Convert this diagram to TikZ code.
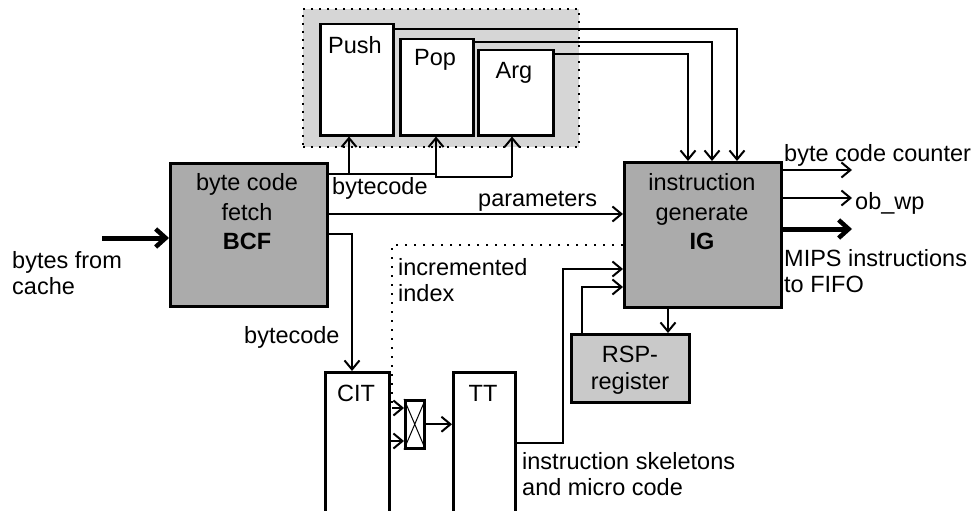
\documentclass[tikz,border=0pt]{standalone}
\usepackage{fontspec}
\setmainfont{Liberation Sans}
\usetikzlibrary{arrows.meta}
\definecolor{dark}{HTML}{ABABAB}
\definecolor{light}{HTML}{D6D6D6}
\definecolor{rspc}{HTML}{C9C9C9}
\begin{document}
\begin{tikzpicture}[x=1pt,y=-1pt, font=\fontsize{23.5}{26}\selectfont,
  box/.style={draw, line width=2.5pt, inner sep=0pt, anchor=north west},
  conn/.style={line width=2pt},
  arr/.style={conn, -{Straight Barb[length=9pt,width=15pt,line width=2pt]}},
  fat/.style={line width=5pt, -{Straight Barb[length=10pt,width=18pt,line width=4.5pt]}},
  lbl/.style={inner sep=0pt, anchor=west, align=left},
  txt/.style={inner sep=0pt, align=center}]
\useasboundingbox (0,0) rectangle (980,511);
% stack group
\node[box, fill=light, line width=2pt, dash pattern=on 2pt off 6pt, minimum width=276pt, minimum height=138pt] (stack) at (302,8) {};
\node[box, fill=white, minimum width=73pt, minimum height=111pt] (push) at (319,23) {};
\node[box, fill=white, minimum width=73pt, minimum height=96pt] (pop) at (399,38) {};
\node[box, fill=white, minimum width=75pt, minimum height=85pt] (arg) at (477,49) {};
\node[txt] (tpush) at (355,45) {Push};
\node[txt] (tpop) at (435,60) {Pop};
\node[txt] (targ) at (514,73) {Arg};
% main blocks
\node[box, fill=dark, minimum width=157pt, minimum height=143pt] (bcf) at (169,162) {};
\node[box, fill=dark, minimum width=157pt, minimum height=145pt] (ig) at (623,161) {};
\node[box, fill=rspc, minimum width=118pt, minimum height=68pt] (rsp) at (570,333) {};
\node[box, fill=white, minimum width=64pt, minimum height=170pt] (cit) at (324,371) {};
\node[box, fill=white, minimum width=62pt, minimum height=170pt] (tt) at (452,371) {};
\node[box, fill=white, minimum width=19pt, minimum height=48pt] (sw) at (404,399) {};
\draw[line width=1pt] (sw.north west) -- (sw.south east) (sw.north east) -- (sw.south west);
\node[txt, font=\fontsize{23.5}{29.5}\selectfont] (tbcf) at (247,212) {byte code\\fetch\\\textbf{BCF}};
\node[txt, font=\fontsize{23.5}{29.5}\selectfont] (tig) at (702,212) {instruction\\generate\\\textbf{IG}};
\node[txt] (tcit) at (356,393) {CIT};
\node[txt] (ttt) at (483,393) {TT};
\node[txt, font=\fontsize{23.5}{27}\selectfont] (trsp) at (630,370) {RSP-\\register};
% labels
\node[lbl] (lbytes) at (12,273) {bytes from\\cache};
\node[lbl] (lbc1) at (332,188) {bytecode};
\node[lbl] (lpar) at (478,201) {parameters};
\node[lbl] (linc) at (398,280) {incremented\\index};
\node[lbl] (lbc2) at (244,337) {bytecode};
\node[lbl] (lskel) at (522,474) {instruction skeletons\\and micro code};
\node[lbl] (lbcc) at (784,155) {byte code counter};
\node[lbl] (lob) at (855,203) {ob\_wp};
\node[lbl] (lmips) at (784,271) {MIPS instructions\\to FIFO};
% stack to IG
\draw[arr] (push.north east |- 0,29) -- (737,29) -- (ig.north -| 737,0);
\draw[arr] (pop.north east |- 0,42) -- (712,42) -- (ig.north -| 712,0);
\draw[arr] (arg.north east |- 0,54) -- (688,54) -- (ig.north -| 688,0);
% bytecode bus
\coordinate (b1) at (349,174);
\coordinate (b2) at (436,174);
\coordinate (b3) at (436,177);
\coordinate (b4) at (512,177);
\draw[conn] (bcf.east |- b1) -- (b2) -- (b3) -- (b4);
\draw[arr] (b1) -- (b1 |- push.south);
\draw[arr] (b3) -- (b3 |- pop.south);
\draw[arr] (b4) -- (b4 |- arg.south);
% parameters
\draw[arr] (bcf.east |- 0,214) -- (ig.west |- 0,214);
% bcf to cit
\draw[arr] (bcf.east |- 0,234) -- (352,234) -- (cit.north -| 352,0);
% incremented index
\coordinate (d1) at (392,408);
\draw[conn, dash pattern=on 2pt off 7pt] (ig.west |- 0,245) -- (392,245) -- (d1);
\draw[arr] (d1) -- (sw.west |- d1);
\draw[arr] (cit.east |- 0,441) -- (sw.west |- 0,441);
\draw[arr] (sw.east) -- (tt.west |- sw.east);
% TT to IG
\draw[arr] (tt.east |- 0,443) -- (563,443) -- (563,269) -- (ig.west |- 0,269);
% RSP
\draw[arr] (rsp.north -| 582,0) -- (582,287) -- (ig.west |- 0,287);
\draw[arr] (ig.south -| 668,0) -- (rsp.north -| 668,0);
% outputs
\draw[arr] (ig.east |- 0,170) -- (852,170);
\draw[arr] (ig.east |- 0,198) -- (852,198);
\draw[fat] (ig.east |- 0,229) -- (852,229);
\draw[fat] (102,238) -- (bcf.west |- 0,238);
\end{tikzpicture}
\end{document}
